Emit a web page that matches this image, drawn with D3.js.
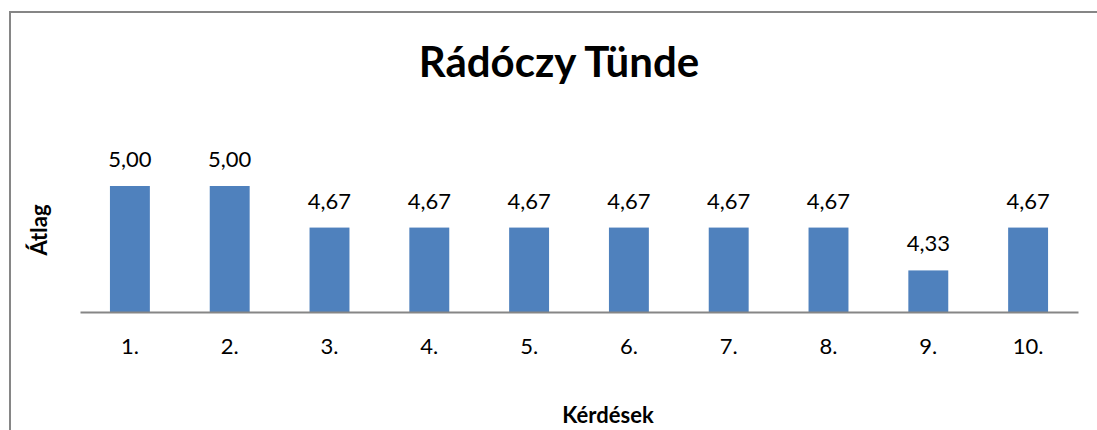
<!DOCTYPE html>
<html><head><meta charset="utf-8">
<script src="https://cdn.jsdelivr.net/npm/d3@7"></script>
<style>body{margin:0;background:#fff}svg{display:block}</style>
</head><body>
<svg id="c" width="1097" height="430"></svg>
<script>
const categories = ["1.","2.","3.","4.","5.","6.","7.","8.","9.","10."];
const values = [5.00,5.00,4.67,4.67,4.67,4.67,4.67,4.67,4.33,4.67];
const labels = ["5,00","5,00","4,67","4,67","4,67","4,67","4,67","4,67","4,33","4,67"];
const title = "Rádóczy Tünde";
const xTitle = "Kérdések";
const yTitle = "Átlag";

const svg = d3.select("#c");
const font = "Lato, 'Open Sans', sans-serif";
// outer border
svg.append("rect").attr("x",10).attr("y",12).attr("width",1200).attr("height",600)
  .attr("fill","#fff").attr("stroke","#868686").attr("stroke-width",2);

const x = d3.scaleBand().domain(categories).range([80,1078]).paddingInner(0.6).paddingOuter(0.3);
const y = d3.scaleLinear().domain([4,5]).range([312,186]);

svg.selectAll("rect.bar").data(values).join("rect").attr("class","bar")
  .attr("x",(d,i)=>x(categories[i])).attr("width",x.bandwidth())
  .attr("y",d=>y(d)).attr("height",d=>y(4)-y(d)).attr("fill","#4f81bd");

svg.selectAll("text.lbl").data(values).join("text").attr("class","lbl")
  .attr("x",(d,i)=>x(categories[i])+x.bandwidth()/2).attr("y",d=>y(d)-19)
  .attr("text-anchor","middle").attr("font-family",font).attr("font-size",22).attr("fill","#000")
  .text((d,i)=>labels[i]);

const xAxis = d3.axisBottom(x).tickSize(0).tickPadding(0);
const gx = svg.append("g").attr("transform","translate(0,312)").call(xAxis);
gx.select(".domain").attr("stroke","#868686").attr("stroke-width",2.2);
gx.selectAll(".tick text").attr("font-family",font).attr("font-size",22).attr("fill","#000")
  .attr("dy",null).attr("y",42);

svg.append("text").attr("x",559).attr("y",77).attr("text-anchor","middle")
  .attr("font-family",font).attr("font-weight","bold").attr("font-size",42).text(title);
svg.append("text").attr("x",608).attr("y",423).attr("text-anchor","middle")
  .attr("font-family",font).attr("font-weight","bold").attr("font-size",22).text(xTitle);
svg.append("text").attr("transform","translate(47,230) rotate(-90)").attr("text-anchor","middle")
  .attr("font-family",font).attr("font-weight","bold").attr("font-size",22).text(yTitle);
</script>
</body></html>
